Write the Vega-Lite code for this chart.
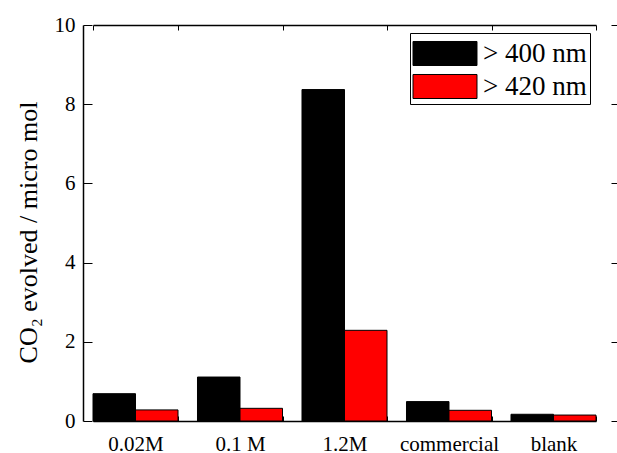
{
  "$schema": "https://vega.github.io/schema/vega-lite/v6.json",
  "width": 537,
  "height": 396,
  "autosize": "none",
  "padding": {"left": 83, "top": 25, "right": 0, "bottom": 32},
  "background": "white",
  "config": {
    "view": {"stroke": null},
    "font": "Liberation Serif",
    "legend": {"labelFont": "Liberation Serif"},
    "axis": {"labelFont": "Liberation Serif", "titleFont": "Liberation Serif"}
  },
  "data": {
    "values": [
      {"sample": "0.02M", "filter": "> 400 nm", "co2": 0.69},
      {"sample": "0.02M", "filter": "> 420 nm", "co2": 0.28},
      {"sample": "0.1 M", "filter": "> 400 nm", "co2": 1.11},
      {"sample": "0.1 M", "filter": "> 420 nm", "co2": 0.32},
      {"sample": "1.2M", "filter": "> 400 nm", "co2": 8.37},
      {"sample": "1.2M", "filter": "> 420 nm", "co2": 2.29},
      {"sample": "commercial", "filter": "> 400 nm", "co2": 0.49},
      {"sample": "commercial", "filter": "> 420 nm", "co2": 0.27},
      {"sample": "blank", "filter": "> 400 nm", "co2": 0.17},
      {"sample": "blank", "filter": "> 420 nm", "co2": 0.15}
    ]
  },
  "layer": [
    {
      "mark": {"type": "bar", "stroke": "black", "strokeWidth": 1},
      "encoding": {
        "x": {
          "field": "sample", "type": "nominal",
          "sort": ["0.02M", "0.1 M", "1.2M", "commercial", "blank"],
          "scale": {"range": [10, 513], "paddingInner": 0.1866, "paddingOuter": 0},
          "axis": {
            "orient": "bottom", "title": null, "labelAngle": 0,
            "labelFont": "Liberation Serif", "labelFontSize": 21, "labelColor": "black",
            "labelBaseline": "alphabetic", "labelPadding": 34,
            "tickBand": "extent", "tickSize": -5, "tickColor": "black",
            "domainColor": "black", "domainWidth": 1.5
          }
        },
        "xOffset": {
          "field": "filter", "type": "nominal",
          "sort": ["> 400 nm", "> 420 nm"],
          "scale": {"paddingInner": 0, "paddingOuter": 0}
        },
        "y": {
          "field": "co2", "type": "quantitative",
          "scale": {"domain": [0, 10], "nice": false},
          "axis": {
            "orient": "left", "values": [0, 2, 4, 6, 8, 10], "grid": false,
            "title": "CO₂ evolved / micro mol",
            "titleFont": "Liberation Serif", "titleFontSize": 26, "titleFontWeight": "normal",
            "titleColor": "black", "titlePadding": 13, "titleY": 207,
            "labelFont": "Liberation Serif", "labelFontSize": 21, "labelColor": "black",
            "labelPadding": 17, "tickSize": -9, "tickColor": "black",
            "domainColor": "black", "domainWidth": 1.5
          }
        },
        "color": {
          "field": "filter", "type": "nominal",
          "sort": ["> 400 nm", "> 420 nm"],
          "scale": {"domain": ["> 400 nm", "> 420 nm"], "range": ["#000000", "#ff0000"]},
          "legend": {
            "title": null, "orient": "none", "legendX": 327, "legendY": 8,
            "strokeColor": "black", "fillColor": "white", "padding": 3,
            "labelFont": "Liberation Serif", "labelFontSize": 27, "labelColor": "black",
            "symbolType": "M-1.882,-0.706H1.882V0.706H-1.882Z", "symbolSize": 1156,
            "symbolOffset": 14.5,
            "symbolStrokeColor": "black", "symbolStrokeWidth": 1, "symbolOpacity": 1,
            "rowPadding": 1, "labelOffset": 20.5
          }
        }
      }
    },
    {
      "mark": {"type": "point", "opacity": 0},
      "encoding": {
        "x": {
          "field": "sample", "type": "nominal",
          "sort": ["0.02M", "0.1 M", "1.2M", "commercial", "blank"],
          "axis": {
            "orient": "top", "title": null, "labels": false,
            "tickBand": "extent", "tickSize": -5, "tickColor": "black",
            "domainColor": "black", "domainWidth": 1.5
          }
        },
        "y": {
          "field": "co2", "type": "quantitative",
          "axis": {
            "orient": "right", "values": [0, 2, 4, 6, 8, 10], "grid": false,
            "title": null, "labels": false, "tickSize": -9, "tickColor": "black",
            "domainColor": "black", "domainWidth": 1.5
          }
        }
      }
    }
  ],
  "resolve": {"axis": {"x": "independent", "y": "independent"}}
}
